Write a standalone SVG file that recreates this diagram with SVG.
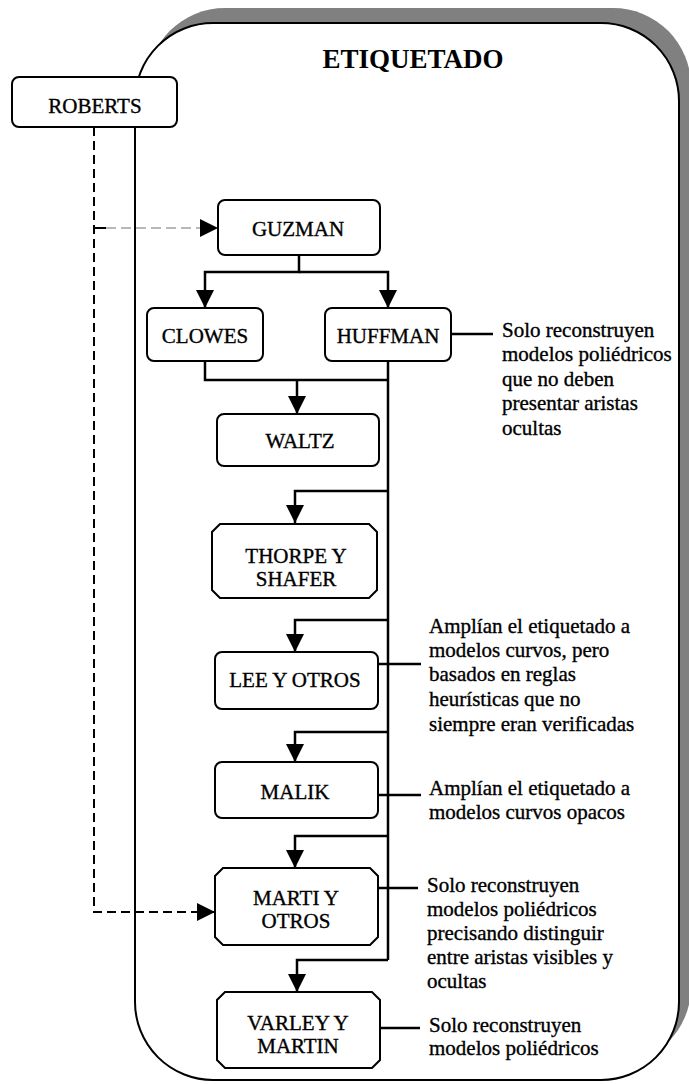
<svg xmlns="http://www.w3.org/2000/svg" width="689" height="1084" viewBox="0 0 689 1084">
<style>
.box{fill:#fff;stroke:#000;stroke-width:2}
.lbl{font-family:'Liberation Serif','Times New Roman',serif;font-size:21px;fill:#000;stroke:#000;stroke-width:0.35;text-anchor:middle}
.note{font-family:'Liberation Serif','Times New Roman',serif;font-size:21px;fill:#000;stroke:#000;stroke-width:0.35}
.con{fill:none;stroke:#000;stroke-width:2.5}
.dash{fill:none;stroke:#000;stroke-width:2;stroke-dasharray:9 5}
.gdash{fill:none;stroke:#b8b8b8;stroke-width:2;stroke-dasharray:10 5}
</style>
<defs>
<marker id="arr" markerUnits="userSpaceOnUse" viewBox="0 0 18 18" refX="18" refY="9" markerWidth="18" markerHeight="18" orient="auto">
<path d="M0,0 L18,9 L0,18 z" fill="#000"/>
</marker>
</defs>
<g id="container">
<rect x="147" y="8" width="544" height="1057" rx="78" ry="78" fill="#808080"/>
<rect x="135" y="23" width="544" height="1057" rx="78" ry="78" fill="#fff" stroke="#000" stroke-width="2"/>
<text x="413" y="68" font-family="Liberation Serif, Times New Roman, serif" font-size="27" font-weight="bold" text-anchor="middle">ETIQUETADO</text>
</g>
<g id="connectors">
<path class="dash" d="M94 127 V912 H215" marker-end="url(#arr)"/>
<path d="M94 228 H106" fill="none" stroke="#000" stroke-width="2"/>
<path class="gdash" d="M106 228 H218" marker-end="url(#arr)"/>
<path class="con" d="M299 255 V272 H205 V308" marker-end="url(#arr)"/>
<path class="con" d="M299 272 H388 V308" marker-end="url(#arr)"/>
<path class="con" d="M205 361 V380 H388"/>
<path class="con" d="M297 380 V414" marker-end="url(#arr)"/>
<path class="con" d="M388 361 V960"/>
<path class="con" d="M388 491 H295 V523" marker-end="url(#arr)"/>
<path class="con" d="M388 620 H295 V652" marker-end="url(#arr)"/>
<path class="con" d="M388 732 H295 V762" marker-end="url(#arr)"/>
<path class="con" d="M388 836 H295 V868" marker-end="url(#arr)"/>
<path class="con" d="M388 960 H297 V992" marker-end="url(#arr)"/>
<path class="con" d="M451 334 H493"/>
<path class="con" d="M378 664 H421"/>
<path class="con" d="M378 795 H421"/>
<path class="con" d="M378 888 H418"/>
<path class="con" d="M380 1028 H420"/>
</g>
<g id="roberts" font-family="Liberation Serif, Times New Roman, serif">
<rect class="box" x="12" y="77" width="165" height="50" rx="7"/>
<text class="lbl" x="95" y="113">ROBERTS</text>
</g>
<g id="guzman" font-family="Liberation Serif, Times New Roman, serif">
<rect class="box" x="218" y="200" width="162" height="55" rx="7"/>
<text class="lbl" x="298" y="236">GUZMAN</text>
</g>
<g id="clowes" font-family="Liberation Serif, Times New Roman, serif">
<rect class="box" x="147" y="308" width="116" height="53" rx="7"/>
<text class="lbl" x="205" y="343">CLOWES</text>
</g>
<g id="huffman" font-family="Liberation Serif, Times New Roman, serif">
<rect class="box" x="325" y="308" width="126" height="53" rx="7"/>
<text class="lbl" x="388" y="343">HUFFMAN</text>
</g>
<g id="waltz" font-family="Liberation Serif, Times New Roman, serif">
<rect class="box" x="217" y="414" width="162" height="52" rx="7"/>
<text class="lbl" x="300" y="448">WALTZ</text>
</g>
<g id="thorpe" font-family="Liberation Serif, Times New Roman, serif">
<path class="box" d="M220 524 H369 L377 532 V590 L369 598 H220 L212 590 V532 Z"/>
<text class="lbl" x="296" y="563">THORPE Y</text>
<text class="lbl" x="296" y="586">SHAFER</text>
</g>
<g id="lee" font-family="Liberation Serif, Times New Roman, serif">
<rect class="box" x="215" y="652" width="163" height="57" rx="7"/>
<text class="lbl" x="295" y="687">LEE Y OTROS</text>
</g>
<g id="malik" font-family="Liberation Serif, Times New Roman, serif">
<rect class="box" x="215" y="762" width="163" height="56" rx="7"/>
<text class="lbl" x="295" y="799">MALIK</text>
</g>
<g id="marti" font-family="Liberation Serif, Times New Roman, serif">
<path class="box" d="M223 868 H370 L378 876 V937 L370 945 H223 L215 937 V876 Z"/>
<text class="lbl" x="296" y="905">MARTI Y</text>
<text class="lbl" x="296" y="928">OTROS</text>
</g>
<g id="varley" font-family="Liberation Serif, Times New Roman, serif">
<path class="box" d="M225 992 H372 L380 1000 V1060 L372 1068 H225 L217 1060 V1000 Z"/>
<text class="lbl" x="298" y="1030">VARLEY Y</text>
<text class="lbl" x="298" y="1053">MARTIN</text>
</g>
<g id="note1" font-family="Liberation Serif, Times New Roman, serif">
<text class="note" x="502" y="337">Solo reconstruyen</text>
<text class="note" x="502" y="361">modelos poliédricos</text>
<text class="note" x="502" y="386">que no deben</text>
<text class="note" x="502" y="410">presentar aristas</text>
<text class="note" x="502" y="435">ocultas</text>
</g>
<g id="note2" font-family="Liberation Serif, Times New Roman, serif">
<text class="note" x="429" y="633">Amplían el etiquetado a</text>
<text class="note" x="429" y="657">modelos curvos, pero</text>
<text class="note" x="429" y="681">basados en reglas</text>
<text class="note" x="429" y="706">heurísticas que no</text>
<text class="note" x="429" y="731">siempre eran verificadas</text>
</g>
<g id="note3" font-family="Liberation Serif, Times New Roman, serif">
<text class="note" x="429" y="795">Amplían el etiquetado a</text>
<text class="note" x="429" y="819">modelos curvos opacos</text>
</g>
<g id="note4" font-family="Liberation Serif, Times New Roman, serif">
<text class="note" x="427" y="892">Solo reconstruyen</text>
<text class="note" x="427" y="916">modelos poliédricos</text>
<text class="note" x="427" y="940">precisando distinguir</text>
<text class="note" x="427" y="964">entre aristas visibles y</text>
<text class="note" x="427" y="988">ocultas</text>
</g>
<g id="note5" font-family="Liberation Serif, Times New Roman, serif">
<text class="note" x="429" y="1032">Solo reconstruyen</text>
<text class="note" x="429" y="1055">modelos poliédricos</text>
</g>
</svg>
